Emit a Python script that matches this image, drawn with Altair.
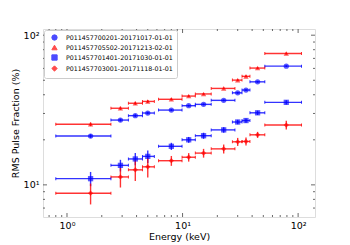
import altair as alt
import pandas as pd

# ---- data ----
series_names = [
    "P011457700201-20171017-01-01",
    "P011457705502-20171213-02-01",
    "P011457701401-20171030-01-01",
    "P011457703001-20171118-01-01",
]
series_colors = ["#0000ff", "#ff0000", "#0000ff", "#ff0000"]
series_shapes = ["circle", "triangle-up", "square", "diamond"]

energy_c = [1.6, 2.9, 3.9, 5.0, 8.0, 11.3, 15.2, 22.7, 30.0, 35.4, 44.6, 79.0]
energy_lo = [0.8, 2.4, 3.4, 4.5, 6.2, 9.9, 12.9, 17.7, 27.0, 32.7, 38.3, 51.5]
energy_hi = [2.4, 3.4, 4.5, 5.7, 9.9, 12.9, 17.7, 28.4, 32.7, 38.3, 51.5, 107.0]

rms1 = [21.2, 27.1, 29.0, 30.2, 31.6, 33.8, 34.5, 36.7, 41.2, 43.0, 48.8, 62.1]
err1 = [0.6, 0.6, 0.6, 0.6, 0.5, 0.5, 0.5, 0.5, 0.6, 0.6, 0.7, 0.9]
rms2 = [25.4, 32.5, 35.1, 36.1, 37.3, 39.2, 40.5, 44.1, 50.1, 53.1, 60.3, 75.5]
err2 = [0.7, 0.8, 0.8, 0.8, 0.6, 0.6, 0.6, 0.6, 0.8, 0.8, 0.9, 1.2]
rms3 = [11.0, 13.5, 14.9, 15.5, 18.1, 20.0, 21.3, 23.3, 26.3, 26.9, 30.3, 35.6]
err3 = [1.2, 1.2, 1.4, 1.5, 1.0, 0.9, 1.0, 1.0, 0.9, 0.9, 1.0, 1.2]
rms4 = [8.8, 11.3, 12.6, 13.2, 14.5, 15.3, 16.3, 17.4, 19.4, 19.5, 21.6, 25.1]
err4 = [1.4, 1.7, 2.0, 2.0, 1.1, 1.0, 1.1, 1.2, 1.2, 1.2, 1.0, 1.7]

x_major = [1, 10, 100]
x_minor = [0.7, 0.8, 0.9, 2, 3, 4, 5, 6, 7, 8, 9, 20, 30, 40, 50, 60, 70, 80, 90]
y_major = [10, 100]
y_minor = [7, 8, 9, 20, 30, 40, 50, 60, 70, 80, 90]

# ---- build table ----
rows = []
for name, vals, errs in zip(series_names, [rms1, rms2, rms3, rms4], [err1, err2, err3, err4]):
    for e, lo, hi, v, er in zip(energy_c, energy_lo, energy_hi, vals, errs):
        rows.append(dict(series=name, e=e, elo=lo, ehi=hi, rms=v, ylo=v - er, yhi=v + er))
df = pd.DataFrame(rows)

W, H = 272, 188
xscale = alt.Scale(type="log", domain=[0.62, 140], nice=False)
yscale = alt.Scale(type="log", domain=[6.1, 110], nice=False)
legend = alt.Legend(title=None, orient="top-left")
cscale = alt.Scale(domain=series_names, range=series_colors)
sscale = alt.Scale(domain=series_names, range=series_shapes)
color = alt.Color("series:N", scale=cscale, legend=legend)
shape = alt.Shape("series:N", scale=sscale, legend=legend)

x_axis = alt.Axis(values=x_major, labelExpr="datum.value == 1 ? '10⁰' : datum.value == 10 ? '10¹' : '10²'",
                  grid=False, ticks=False, domain=False, title="Energy (keV)",
                  labelFontSize=9.5, titleFontSize=9.5, labelPadding=3, titlePadding=2,
                  labelColor="black", titleColor="black", titleFontWeight="normal")
y_axis = alt.Axis(values=y_major, labelExpr="datum.value == 10 ? '10¹' : '10²'",
                  grid=False, ticks=False, domain=False, title="RMS Pulse Fraction (%)",
                  labelFontSize=9.5, titleFontSize=9.5, labelPadding=4, titlePadding=3,
                  labelColor="black", titleColor="black", titleFontWeight="normal")

def X(f):
    return alt.X(f, type="quantitative", scale=xscale, axis=x_axis, title="Energy (keV)")

def Y(f):
    return alt.Y(f, type="quantitative", scale=yscale, axis=y_axis, title="RMS Pulse Fraction (%)")

base = alt.Chart(df)
xerr = base.mark_rule(strokeWidth=1.4, opacity=0.8).encode(
    x=X("elo"), x2="ehi:Q", y=Y("rms"), color=color)
yerr = base.mark_rule(strokeWidth=1.4, opacity=0.8).encode(
    x=X("e"), y=Y("ylo"), y2="yhi:Q", color=color)
cap_lo = base.mark_tick(orient="vertical", size=3, thickness=1, opacity=0.8).encode(
    x=X("elo"), y=Y("rms"), color=color)
cap_hi = base.mark_tick(orient="vertical", size=3, thickness=1, opacity=0.8).encode(
    x=X("ehi"), y=Y("rms"), color=color)
pts = base.mark_point(filled=True, size=28, opacity=0.65).encode(
    x=X("e"), y=Y("rms"), color=color, shape=shape)

def ticks_x(vals, length):
    c = alt.Chart(pd.DataFrame({"v": vals}))
    bot = c.mark_rule(color="#444", strokeWidth=0.8).encode(
        x=X("v"), y=alt.value(H), y2=alt.value(H - length))
    top = c.mark_rule(color="#444", strokeWidth=0.8).encode(
        x=X("v"), y=alt.value(0), y2=alt.value(length))
    return [bot, top]

def ticks_y(vals, length):
    c = alt.Chart(pd.DataFrame({"v": vals}))
    left = c.mark_rule(color="#444", strokeWidth=0.8).encode(
        y=Y("v"), x=alt.value(0), x2=alt.value(length))
    right = c.mark_rule(color="#444", strokeWidth=0.8).encode(
        y=Y("v"), x=alt.value(W), x2=alt.value(W - length))
    return [left, right]

layers = [xerr, yerr, cap_lo, cap_hi, pts] + ticks_x(x_major, 4) + ticks_x(x_minor, 2) \
    + ticks_y(y_major, 4) + ticks_y(y_minor, 2)

chart = alt.layer(*layers).properties(
    width=W, height=H,
    autosize=alt.AutoSizeParams(type="none"),
    padding={"left": 35, "top": 21, "right": 20, "bottom": 28},
).configure_view(
    stroke="#555", strokeWidth=1.2
).configure(
    font="DejaVu Sans"
).configure_legend(
    labelFontSize=6.3, labelColor="black", symbolSize=28, symbolStrokeWidth=1,
    fillColor="white", strokeColor="#cccccc", padding=4, cornerRadius=2,
    offset=1, rowPadding=0, labelLimit=300, symbolOpacity=0.7,
    symbolOffset=3, labelOffset=8
)

chart.save("out.html", embed_options={"renderer": "svg", "actions": False})
